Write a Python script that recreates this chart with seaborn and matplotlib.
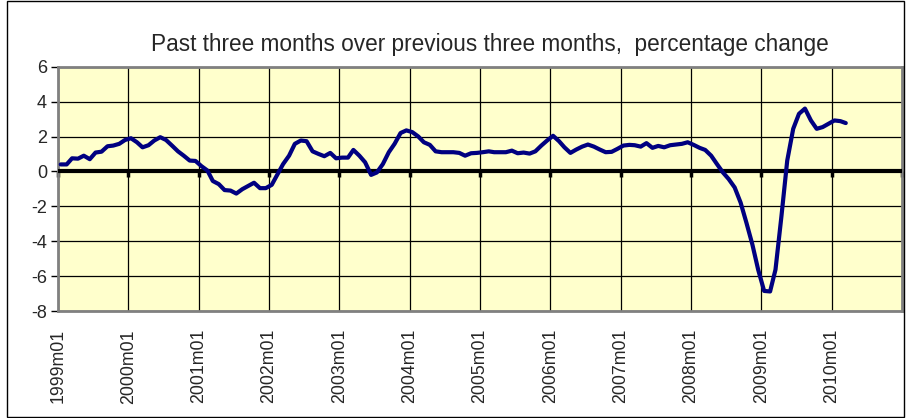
import pandas as pd
import numpy as np
import matplotlib
matplotlib.use('Agg')
import matplotlib.pyplot as plt
from matplotlib.patches import Rectangle
import seaborn as sns

# monthly series, 1999m01 .. 2010m03
start_month = '1999-01-01'
values = [
    0.40, 0.40, 0.75, 0.73, 0.90, 0.70, 1.08, 1.13, 1.44, 1.48, 1.58, 1.80,
    1.90, 1.67, 1.38, 1.50, 1.77, 1.96, 1.80, 1.48, 1.15, 0.90, 0.62, 0.60,
    0.30, 0.05, -0.55, -0.73, -1.07, -1.10, -1.27, -1.02, -0.83, -0.65, -0.96, -0.96,
    -0.77, -0.15, 0.42, 0.90, 1.58, 1.77, 1.73, 1.15, 1.00, 0.87, 1.06, 0.75,
    0.79, 0.79, 1.23, 0.90, 0.52, -0.20, -0.06, 0.42, 1.10, 1.58, 2.20, 2.35,
    2.25, 2.00, 1.67, 1.52, 1.15, 1.10, 1.10, 1.10, 1.06, 0.90, 1.04, 1.06,
    1.10, 1.15, 1.10, 1.10, 1.10, 1.19, 1.04, 1.08, 1.02, 1.15, 1.48, 1.77,
    2.04, 1.73, 1.38, 1.06, 1.25, 1.42, 1.54, 1.42, 1.25, 1.10, 1.12, 1.29,
    1.48, 1.52, 1.50, 1.42, 1.62, 1.35, 1.46, 1.38, 1.50, 1.54, 1.58, 1.67,
    1.52, 1.35, 1.23, 0.90, 0.42, -0.06, -0.44, -0.92, -1.79, -2.94, -4.19, -5.63,
    -6.85, -6.88, -5.63, -2.56, 0.62, 2.44, 3.30, 3.60, 2.92, 2.44, 2.54, 2.73,
    2.92, 2.88, 2.77,
]
tick_years = list(range(1999, 2012))
y_ticks = [-8, -6, -4, -2, 0, 2, 4, 6]
title = 'Past three months over previous three months,  percentage change'

months = pd.date_range(start_month, periods=len(values), freq='MS') + pd.Timedelta(days=14)
df = pd.DataFrame({'month': months, 'change': values})

sns.set_style('white')
plt.rcParams['font.family'] = ['Liberation Sans', 'DejaVu Sans']

fig = plt.figure(figsize=(9.07, 4.18), dpi=100)
ax = fig.add_axes([58/907, 1 - 311/418, (902 - 58)/907, (311 - 66.7)/418])
ax.set_facecolor('#FFFFCC')

sns.lineplot(data=df, x='month', y='change', ax=ax, color='#000080', lw=3, zorder=4)

ax.set_xlim(pd.Timestamp('1999-01-01'), pd.Timestamp('2011-01-01'))
ax.set_ylim(-8, 6)
ax.set_yticks(y_ticks)
ax.set_yticklabels([str(v) for v in y_ticks], fontsize=13)

xt = [pd.Timestamp(f'{y}-01-01') for y in tick_years]
ax.set_xticks(xt[:-1])
ax.set_xticklabels([f'{y}m01' for y in tick_years[:-1]], rotation=90, fontsize=12.8,
                   va='top', ha='center')
ax.tick_params(axis='x', length=0, pad=13)
ax.tick_params(axis='y', direction='out', length=5, width=1, color='#000000', pad=3, left=True)

ax.grid(True, color='black', lw=0.9)
ax.set_axisbelow(True)
for s in ax.spines.values():
    s.set_color('#808080')
    s.set_linewidth(2)

ax.axhline(0, color='black', lw=3, zorder=3)
# small year ticks hanging from the zero line
sec = ax.secondary_xaxis(8/14)
sec.set_xticks(xt)
sec.tick_params(axis='x', direction='out', length=4, width=2.5, color='black')
sec.spines['bottom'].set_visible(False)
sec.spines['top'].set_visible(False)
sec.xaxis.set_ticks_position('bottom')
sec.set_xticklabels([])

ax.set_xlabel('')
ax.set_ylabel('')

fig.text(490/907, 1 - 45/418, title, ha='center', va='center', fontsize=16.3)
fig.patches.append(Rectangle((7/907, 1/418), 897/907, 416/418, transform=fig.transFigure,
                             fill=False, edgecolor='black', lw=1))

fig.savefig('out.png', dpi=100)
